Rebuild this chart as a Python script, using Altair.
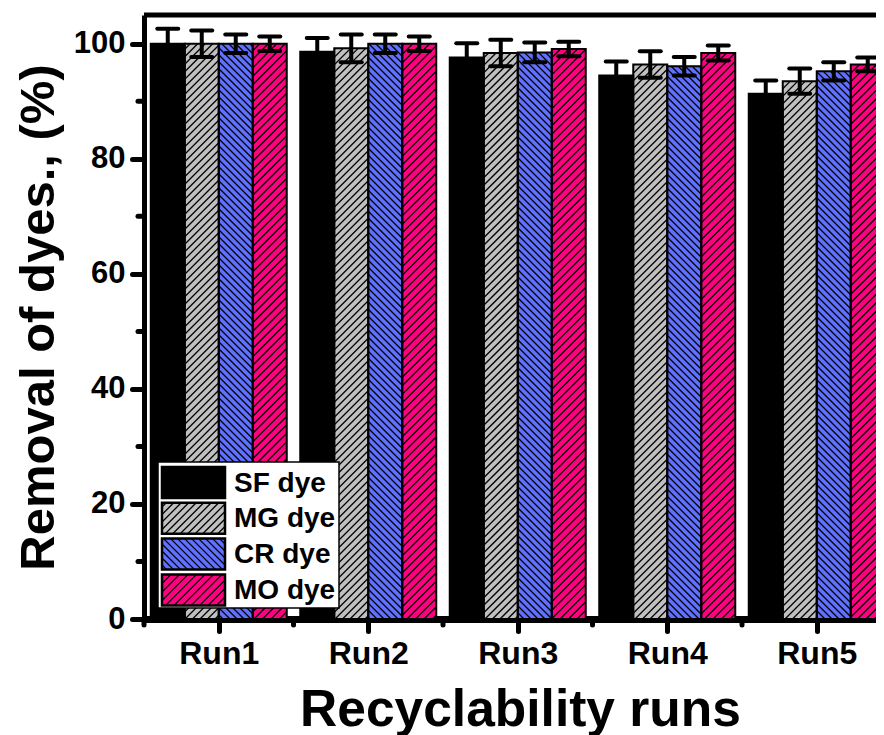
import math
import altair as alt
import pandas as pd

# ---------------- data ----------------
runs = ["Run1", "Run2", "Run3", "Run4", "Run5"]
series = ["SF dye", "MG dye", "CR dye", "MO dye"]
sf = [100.0, 98.6, 97.6, 94.5, 91.3]
sf_err = [2.6, 2.4, 2.5, 2.4, 2.3]
mg = [100.0, 99.2, 98.4, 96.4, 93.5]
mg_err = [2.3, 2.4, 2.3, 2.3, 2.2]
cr = [100.0, 100.0, 98.5, 96.1, 95.2]
cr_err = [1.6, 1.6, 1.7, 1.6, 1.6]
mo = [100.0, 100.0, 99.1, 98.4, 96.4]
mo_err = [1.25, 1.25, 1.25, 1.3, 1.2]
y_ticks = [0, 20, 40, 60, 80, 100]
y_minor = [10, 30, 50, 70, 90]

# ---------------- styles / layout ----------------
FONT = "Liberation Sans"
colors = ["#000000", "#C0C0C0", "#6070FF", "#FF0080"]
hatch_dir = [None, "/", "\\", "/"]
hatch_gap = [0, 7.5, 7.0, 8.5]

PAD_L, PAD_T, PAD_R, PAD_B = 136, 7, 0, 116
W, H = 732, 604
PXU = 149.5                      # px per run unit
XD = [0.5, 0.5 + W / PXU]
YD = [0, 105]
PXY = H / (YD[1] - YD[0])
BAR_PX = 34
CAP_HALF_PX = 10.5

xscale = alt.Scale(domain=XD, nice=False, zero=False)
yscale = alt.Scale(domain=YD, nice=False, zero=False)
cscale = alt.Scale(domain=series, range=colors)

vals = [sf, mg, cr, mo]
errs = [sf_err, mg_err, cr_err, mo_err]


def hatch(xl, xr, yt, yb, d, s):
    out = []
    if d == "/":
        cmin, cmax = xl + yt, xr + yb
        k = math.floor(cmin / s) + 1
        while k * s < cmax:
            c = k * s
            ylo, yhi = max(yt, c - xr), min(yb, c - xl)
            if yhi - ylo > 0.3:
                out.append((c - ylo, ylo, c - yhi, yhi))
            k += 1
    else:
        cmin, cmax = xl - yb, xr - yt
        k = math.floor(cmin / s) + 1
        while k * s < cmax:
            c = k * s
            ylo, yhi = max(yt, xl - c), min(yb, xr - c)
            if yhi - ylo > 0.3:
                out.append((c + ylo, ylo, c + yhi, yhi))
            k += 1
    return out


bw = BAR_PX / PXU
bars, errrows, hatch_rows = [], [], []
for i, run in enumerate(runs):
    for k, s in enumerate(series):
        x1 = (i + 1) + (k - 2) * bw
        x2 = x1 + bw
        v = vals[k][i]
        e = errs[k][i]
        bars.append(dict(run=run, series=s, x1=x1, x2=x2, value=v, base=0))
        xc = (x1 + x2) / 2
        ch = CAP_HALF_PX / PXU
        errrows.append(dict(xc=xc, lo=v - e, hi=v + e, c1=xc - ch, c2=xc + ch))
        if hatch_dir[k]:
            xl = (x1 - XD[0]) * PXU
            xr = (x2 - XD[0]) * PXU
            yt = H - v * PXY
            for (ax, ay, bx, by) in hatch(xl, xr, yt, H, hatch_dir[k], hatch_gap[k]):
                hatch_rows.append(dict(hx1=XD[0] + ax / PXU, hy1=(H - ay) / PXY,
                                       hx2=XD[0] + bx / PXU, hy2=(H - by) / PXY))

bars_df = pd.DataFrame(bars)
err_df = pd.DataFrame(errrows)
hatch_df = pd.DataFrame(hatch_rows)

x_axis = alt.Axis(values=[1, 2, 3, 4, 5], labelExpr="'Run' + datum.value",
                  title="Recyclability runs", grid=False,
                  domainWidth=7, domainColor="black", tickColor="black",
                  tickWidth=5, tickSize=12, tickCap="round",
                  labelFont=FONT, labelFontSize=32, labelFontWeight="bold",
                  labelColor="black", labelPadding=7, labelFlush=False,
                  titleFont=FONT, titleFontSize=51.5, titleFontWeight="bold",
                  titleColor="black", titleX=376, titleY=106,
                  titleBaseline="alphabetic", titleAlign="center")
y_axis = alt.Axis(values=y_ticks, title="Removal of dyes., (%)", grid=False,
                  domainWidth=5, domainColor="black", tickColor="black",
                  tickWidth=5, tickSize=12, tickCap="round",
                  labelFont=FONT, labelFontSize=31, labelFontWeight="bold",
                  labelColor="black", labelPadding=7, labelFlush=False,
                  titleFont=FONT, titleFontSize=49, titleFontWeight="bold",
                  titleColor="black", titleX=-91, titleY=302, titleAngle=270,
                  titleBaseline="alphabetic", titleAlign="center")

bar_fill = alt.Chart(bars_df).mark_rect(strokeWidth=0).encode(
    x=alt.X("x1:Q", scale=xscale, axis=x_axis),
    x2="x2:Q",
    y=alt.Y("value:Q", scale=yscale, axis=y_axis),
    y2="base:Q",
    fill=alt.Fill("series:N", scale=cscale, legend=None),
)
bar_hatch = alt.Chart(hatch_df).mark_rule(color="black", strokeWidth=1.3).encode(
    x=alt.X("hx1:Q", scale=xscale, axis=None), x2="hx2:Q",
    y=alt.Y("hy1:Q", scale=yscale, axis=None), y2="hy2:Q",
)
bar_outline = alt.Chart(bars_df).mark_rect(fill=None, filled=False, stroke="black", strokeWidth=2).encode(
    x=alt.X("x1:Q", scale=xscale, axis=None), x2="x2:Q",
    y=alt.Y("value:Q", scale=yscale, axis=None), y2="base:Q",
)
err_stem = alt.Chart(err_df).mark_rule(color="black", strokeWidth=4).encode(
    x=alt.X("xc:Q", scale=xscale, axis=None),
    y=alt.Y("lo:Q", scale=yscale, axis=None), y2="hi:Q",
)
cap_hi = alt.Chart(err_df).mark_rule(color="black", strokeWidth=4, strokeCap="round").encode(
    x=alt.X("c1:Q", scale=xscale, axis=None), x2="c2:Q",
    y=alt.Y("hi:Q", scale=yscale, axis=None),
)
cap_lo = alt.Chart(err_df).mark_rule(color="black", strokeWidth=4, strokeCap="round").encode(
    x=alt.X("c1:Q", scale=xscale, axis=None), x2="c2:Q",
    y=alt.Y("lo:Q", scale=yscale, axis=None),
)
x_minor_df = pd.DataFrame({"m": [0.5, 1.5, 2.5, 3.5, 4.5]})
x_minor = alt.Chart(x_minor_df).mark_rule(color="black", strokeWidth=5, strokeCap="round").encode(
    x=alt.X("m:Q", scale=xscale, axis=None),
    y=alt.value(H), y2=alt.value(H + 6),
)
y_minor_df = pd.DataFrame({"m": y_minor})
y_minor_r = alt.Chart(y_minor_df).mark_rule(color="black", strokeWidth=5, strokeCap="round").encode(
    y=alt.Y("m:Q", scale=yscale, axis=None),
    x=alt.value(0), x2=alt.value(-6),
)
top_frame = alt.Chart(alt.Data(values=[{}])).mark_rule(color="black", strokeWidth=5).encode(
    x=alt.value(0), x2=alt.value(W + 10), y=alt.value(0),
)

# ---------------- legend (pixel-space layers) ----------------
px = alt.Scale(domain=[0, W], range=[0, W], nice=False, zero=False)
py = alt.Scale(domain=[0, H], range=[0, H], nice=False, zero=False)
BOX = dict(bx1=14, bx2=195, by1=447, by2=593)
SW_X1, SW_X2, SW_H, ROW0, PITCH, LBL_X = 18, 81, 31, 452, 35.8, 90

leg_rows, leg_hatch = [], []
for k, s in enumerate(series):
    t = ROW0 + k * PITCH
    leg_rows.append(dict(series=s, sx1=SW_X1, sx2=SW_X2, sy1=t, sy2=t + SW_H,
                         ty=t + SW_H / 2, lx=LBL_X))
    if hatch_dir[k]:
        for (ax, ay, bx, by) in hatch(SW_X1, SW_X2, t, t + SW_H, hatch_dir[k], hatch_gap[k]):
            leg_hatch.append(dict(a=ax, b=ay, c=bx, d=by))
leg_df = pd.DataFrame(leg_rows)
leg_h_df = pd.DataFrame(leg_hatch)

leg_box = alt.Chart(alt.Data(values=[BOX])).mark_rect(fill="white", stroke="black", strokeWidth=1.5).encode(
    x=alt.X("bx1:Q", scale=px, axis=None), x2="bx2:Q",
    y=alt.Y("by1:Q", scale=py, axis=None), y2="by2:Q",
)
leg_sw = alt.Chart(leg_df).mark_rect(strokeWidth=0).encode(
    x=alt.X("sx1:Q", scale=px, axis=None), x2="sx2:Q",
    y=alt.Y("sy1:Q", scale=py, axis=None), y2="sy2:Q",
    fill=alt.Fill("series:N", scale=cscale, legend=None),
)
leg_hl = alt.Chart(leg_h_df).mark_rule(color="black", strokeWidth=1.3).encode(
    x=alt.X("a:Q", scale=px, axis=None), x2="c:Q",
    y=alt.Y("b:Q", scale=py, axis=None), y2="d:Q",
)
leg_out = alt.Chart(leg_df).mark_rect(fill=None, filled=False, stroke="black", strokeWidth=2.5).encode(
    x=alt.X("sx1:Q", scale=px, axis=None), x2="sx2:Q",
    y=alt.Y("sy1:Q", scale=py, axis=None), y2="sy2:Q",
)
leg_txt = alt.Chart(leg_df).mark_text(align="left", baseline="middle", font=FONT,
                                      fontSize=28, fontWeight="bold", color="black", dy=1).encode(
    x=alt.X("lx:Q", scale=px, axis=None),
    y=alt.Y("ty:Q", scale=py, axis=None),
    text="series:N",
)

chart = alt.layer(
    bar_fill, bar_hatch, bar_outline, err_stem, cap_hi, cap_lo,
    x_minor, y_minor_r, top_frame,
    leg_box, leg_sw, leg_hl, leg_out, leg_txt,
).resolve_scale(x="independent", y="independent").properties(
    width=W, height=H,
    padding={"left": PAD_L, "top": PAD_T, "right": PAD_R, "bottom": PAD_B},
    autosize=alt.AutoSizeParams(type="none"),
    background="white",
).configure_view(stroke=None)

chart.save("out.html", embed_options={"renderer": "svg", "actions": False})
